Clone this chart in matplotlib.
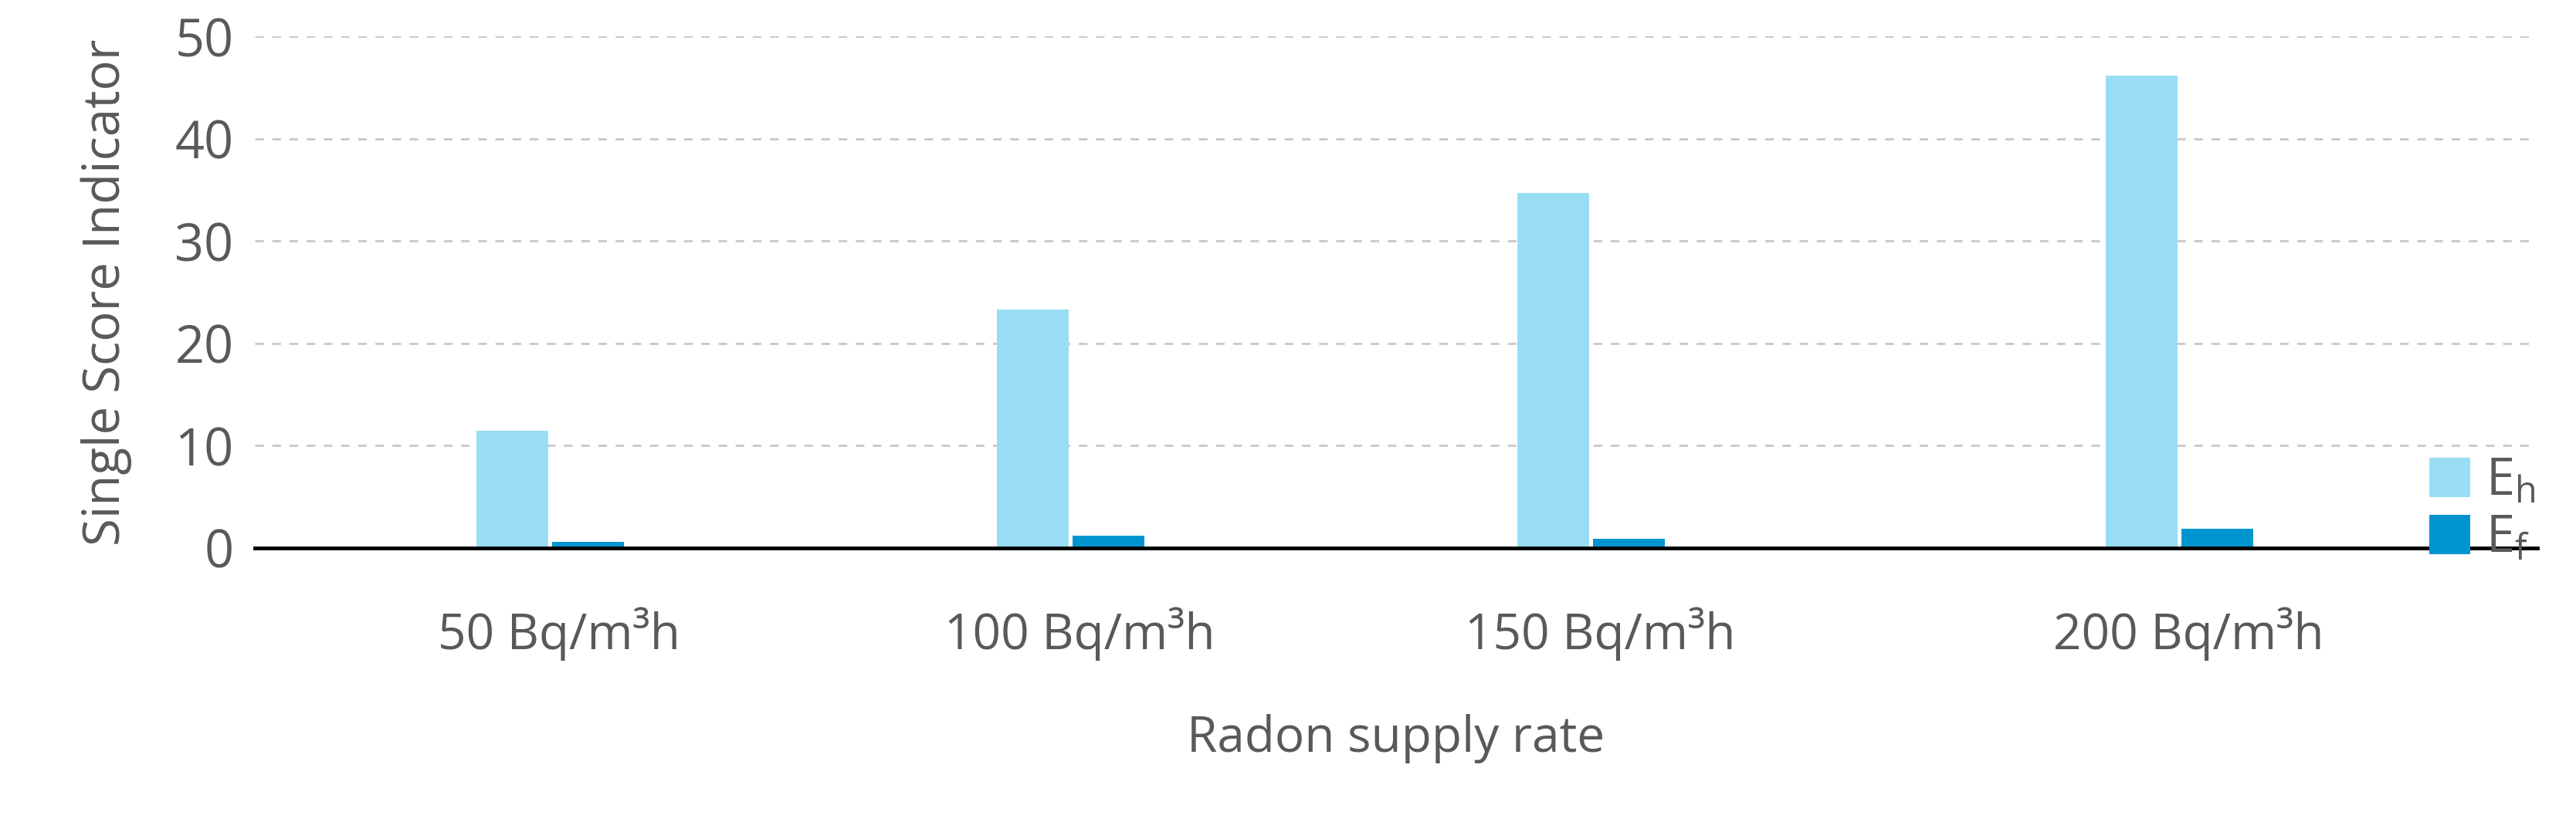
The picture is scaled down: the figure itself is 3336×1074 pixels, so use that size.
import matplotlib.pyplot as plt
import numpy as np

categories = ["50 Bq/m³h", "100 Bq/m³h", "150 Bq/m³h", "200 Bq/m³h"]
eh_values = [11.5, 23.3, 34.7, 46.2]
ef_values = [0.6, 1.2, 0.9, 1.9]

plt.rcParams["font.family"] = ["Open Sans", "DejaVu Sans"]
TEXT = "#595959"

fig = plt.figure(figsize=(33.36, 10.74), dpi=100)
ax = fig.add_axes([0.099, 0.339, 0.886, 0.617])

x = np.array([0, 1, 2, 3.13])
width = 0.138
ax.bar(x - 0.09, eh_values, width, color="#99ddf5", label="$\\mathregular{E_h}$", zorder=3)
ax.bar(x + 0.055, ef_values, width, color="#0095d0", label="$\\mathregular{E_f}$", zorder=3)

ax.set_xlim(-0.584, 3.80)
ax.set_ylim(0, 50)
ax.set_yticks(range(0, 51, 10))
ax.set_xticks(x)
ax.set_xticklabels(categories)
ax.tick_params(length=0, labelsize=48, colors=TEXT, pad=20)
ax.tick_params(axis="x", labelsize=46, pad=55)
ax.yaxis.grid(True, linestyle=(0, (4, 4)), color="#c8c8c8", linewidth=2)
for side in ["top", "right", "left"]:
    ax.spines[side].set_visible(False)
ax.spines["bottom"].set_linewidth(3.5)
ax.spines["bottom"].set_color("black")
ax.spines["bottom"].set_zorder(4)

ax.set_ylabel("Single Score Indicator", fontsize=47, color=TEXT, labelpad=40)
ax.set_xlabel("Radon supply rate", fontsize=46, color=TEXT, labelpad=50)

fig.legend(loc="center left", bbox_to_anchor=(0.925, 0.385), frameon=False,
           fontsize=48, labelcolor=TEXT, handlelength=0.8, handleheight=0.8,
           handletextpad=0.3, labelspacing=0.1)

fig.savefig("out.png", dpi=100)
